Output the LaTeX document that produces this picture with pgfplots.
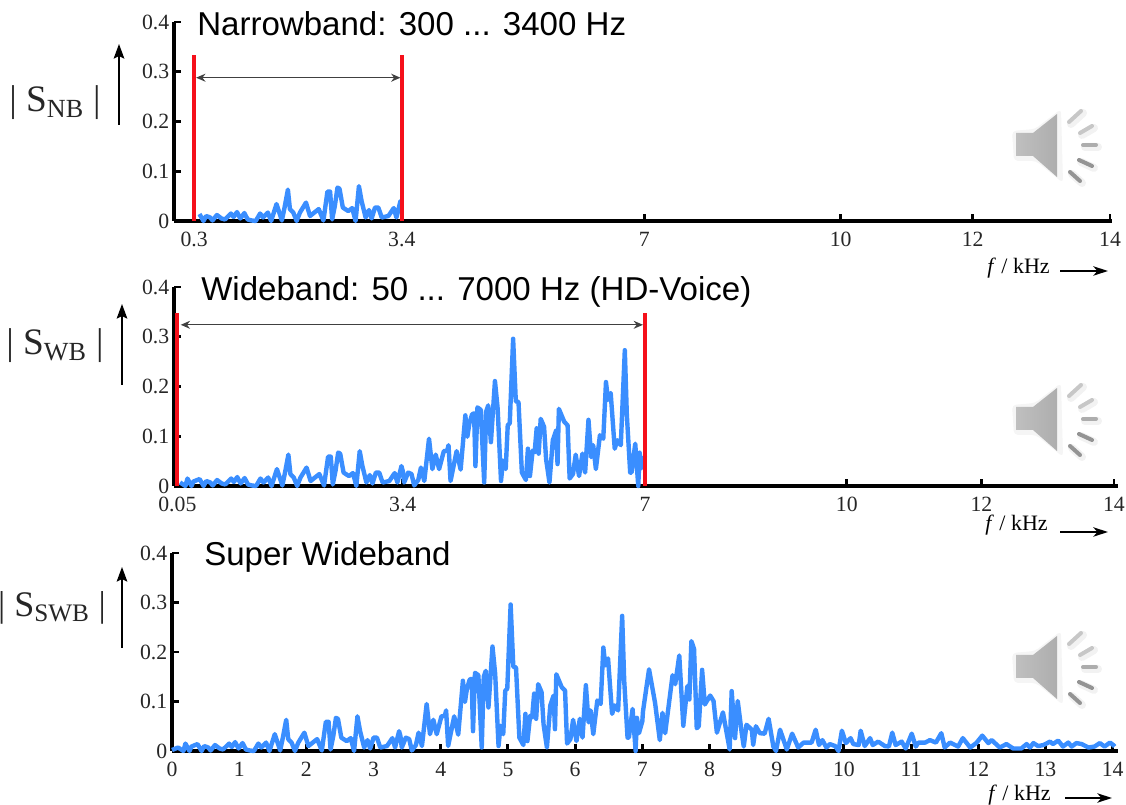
\documentclass[border=0pt]{standalone}
\usepackage{fontspec}
\setmainfont{Liberation Serif}
\newfontfamily\arial{Liberation Sans}
\usepackage{pgfplots}
\usepackage{pgfplotstable}
\pgfplotsset{compat=1.18}
\usetikzlibrary{arrows.meta}
\definecolor{specblue}{HTML}{3A8EFF}
\definecolor{specred}{HTML}{F5101A}
\pgfplotstableread{
f v
0 .002
.09 .007
.17 .0
.2 .015
.26 .0
.29 .009
.38 .014
.44 .0
.48 .01
.54 .007
.575 .001
.64 .012
.71 .005
.76 .003
.85 .015
.89 .008
.94 .018
.99 .005
1.05 .016
1.1 .003
1.16 .001
1.22 .0
1.285 .015
1.33 .007
1.4 .017
1.45 .0
1.53 .034
1.61 .001
1.65 .027
1.7 .063
1.73 .024
1.78 .017
1.83 .0
1.88 .017
1.97 .037
2.03 .01
2.16 .024
2.23 .001
2.29 .059
2.33 .059
2.36 .003
2.4 .03
2.44 .067
2.47 .065
2.52 .027
2.6 .02
2.66 .026
2.71 .0
2.76 .07
2.8 .04
2.86 .007
2.91 .022
2.95 .005
3.0 .027
3.05 .027
3.1 .007
3.2 .01
3.28 .026
3.32 .007
3.38 .04
3.4 .03
3.42 .007
3.48 .027
3.53 .024
3.57 .001
3.63 .012
3.67 .037
3.72 .01
3.79 .095
3.84 .034
3.89 .063
3.94 .034
4.01 .07
4.06 .071
4.08 .082
4.11 .01
4.2 .07
4.26 .033
4.33 .142
4.36 .099
4.39 .126
4.43 .144
4.46 .146
4.48 .04
4.51 .158
4.56 .153
4.61 .007
4.64 .15
4.67 .162
4.71 .088
4.77 .211
4.81 .156
4.86 .01
4.89 .051
4.93 .034
4.96 .122
4.99 .126
5.04 .296
5.08 .17
5.12 .169
5.17 .027
5.23 .012
5.26 .075
5.29 .02
5.33 .071
5.36 .068
5.39 .116
5.42 .065
5.45 .135
5.5 .119
5.53 .054
5.58 .007
5.63 .092
5.68 .112
5.7 .044
5.72 .155
5.8 .129
5.85 .122
5.88 .015
5.93 .024
5.97 .063
6.02 .02
6.07 .065
6.11 .027
6.16 .133
6.2 .058
6.23 .082
6.27 .034
6.33 .102
6.38 .095
6.42 .209
6.45 .173
6.49 .187
6.55 .075
6.59 .092
6.64 .082
6.7 .273
6.73 .143
6.78 .027
6.8 .027
6.855 .085
6.9 .0
6.92 .067
6.95 .036
7.0 .06
7.01 .08
7.1 .165
7.19 .097
7.26 .022
7.3 .077
7.34 .036
7.45 .153
7.49 .135
7.55 .193
7.61 .051
7.67 .131
7.7 .104
7.73 .222
7.77 .206
7.81 .046
7.84 .05
7.89 .164
7.93 .094
8.01 .112
8.06 .101
8.11 .037
8.2 .078
8.3 .003
8.33 .121
8.38 .026
8.42 .101
8.48 .036
8.51 .009
8.55 .053
8.63 .043
8.65 .012
8.69 .05
8.75 .036
8.82 .035
8.88 .065
8.95 .009
8.99 .0
9.05 .043
9.15 .003
9.23 .035
9.32 .007
9.4 .017
9.52 .017
9.58 .043
9.63 .012
9.68 .022
9.74 .007
9.79 .014
9.87 .01
9.92 .0
9.97 .041
10.03 .016
10.1 .026
10.14 .014
10.22 .012
10.25 .041
10.31 .01
10.39 .026
10.43 .012
10.51 .019
10.61 .01
10.67 .009
10.72 .037
10.77 .012
10.86 .019
10.92 .005
11.01 .035
11.07 .009
11.11 .017
11.21 .017
11.28 .022
11.37 .017
11.45 .036
11.5 .007
11.58 .017
11.7 .009
11.77 .026
11.88 .007
11.97 .016
12.06 .031
12.15 .016
12.2 .022
12.32 .007
12.42 .014
12.52 .005
12.64 .005
12.72 .014
12.77 .007
12.82 .016
12.89 .01
12.97 .012
13.07 .019
13.11 .014
13.19 .021
13.26 .009
13.34 .017
13.39 .009
13.46 .016
13.54 .014
13.64 .007
13.73 .009
13.81 .016
13.88 .009
13.96 .017
14.01 .012
14.03 .009
}\spectrum
\pgfplotsset{
  specax/.style={
    scale only axis,
    clip=false,
    axis lines=left,
    axis line style={-,line width=2.8pt,black},
    ymin=0,ymax=0.4,
    ytick={0,0.1,0.2,0.3,0.4},
    yticklabels={0,0.1,0.2,0.3,0.4},
    tick align=inside,
    major tick length=5pt,
    tick style={line width=2.2pt,black},
    ticklabel style={font=\fontsize{16.3}{17}\selectfont,text=black!85},
    yticklabel style={xshift=0pt},
    xtick pos=bottom, ytick pos=left,
    xticklabel style={yshift=-5pt},
  },
  spec/.style={color=specblue,line width=3.3pt,line join=round,no markers},
  band/.style={color=specred,line width=3pt,no markers},
}
\tikzset{
  arrowdim/.style={{Stealth[length=7pt,width=6pt]}-{Stealth[length=7pt,width=6pt]},black!75,line width=1pt},
  xq/.style={-{Stealth[length=11pt,width=7pt,inset=3pt]},line width=1.3pt},
  yq/.style={-{Stealth[length=11pt,width=8pt,inset=2pt]},line width=1.1pt},
}
\newcommand{\speaker}[1]{%
  \begin{scope}[yshift=#1*0.75pt]
    \fill[black!4,rounded corners=3pt] (1012,152) -- (1035,154) -- (1061,174) -- (1063,100) -- (1036,122) -- (1014,122) -- cycle;
    \draw[black!5,line width=6pt,line cap=round]
      (1071,159) -- (1083,170) (1082,148) -- (1094,155) (1085,136) -- (1098,136)
      (1081,121) -- (1094,115) (1072,109) -- (1082,100);
    \shade[left color=black!25,right color=black!32] (1016,150) -- (1033,150) -- (1057,169) -- (1057,106) -- (1033,127) -- (1016,127) -- cycle;
    \draw[black!22,line width=3pt,line cap=round]
      (1069,161) -- (1081,172)
      (1080,150) -- (1092,157);
    \draw[black!32,line width=3pt,line cap=round]
      (1083,138) -- (1096,138);
    \draw[black!42,line width=3pt,line cap=round]
      (1079,123) -- (1092,117)
      (1070,111) -- (1080,102);
  \end{scope}}
\begin{document}
\begin{tikzpicture}[x=0.75pt,y=0.75pt]
\useasboundingbox (0,0) rectangle (1126,805);

% ---- narrowband ----
\begin{axis}[specax,at={(130.5pt,438pt)},anchor=south west,
  width=703.5pt,height=149.25pt,xmin=0,xmax=14,
  xtick={0.3,3.4,7.02,9.95,11.92,13.97},
  xticklabels={0.3,3.4,7,10,12,14}]
\addplot[spec,restrict x to domain=0.3:3.4] table[x=f,y=v] {\spectrum};
\addplot[band] coordinates {(0.3,0)(0.3,0.334)};
\addplot[band] coordinates {(3.4,0)(3.4,0.334)};
\draw[arrowdim] (axis cs:0.33,0.288) -- (axis cs:3.38,0.288);
\end{axis}

% ---- wideband ----
\begin{axis}[specax,at={(130.5pt,239.25pt)},anchor=south west,
  width=708pt,height=149.25pt,xmin=0,xmax=14.03,
  xtick={0.05,3.4,7,10,12,13.97},
  xticklabels={0.05,3.4,7,10,12,14}]
\addplot[spec,restrict x to domain=0.05:7] table[x=f,y=v] {\spectrum};
\addplot[band] coordinates {(0.05,0)(0.05,0.348)};
\addplot[band] coordinates {(7,0)(7,0.348)};
\draw[arrowdim] (axis cs:0.1,0.324) -- (axis cs:6.97,0.324);
\end{axis}

% ---- super wideband ----
\begin{axis}[specax,at={(129pt,40.5pt)},anchor=south west,
  width=709.5pt,height=148.5pt,xmin=0,xmax=14.08,
  xtick={0,1,...,14},
  xticklabels={0,1,2,3,4,5,6,7,8,9,10,11,12,13,14}]
\addplot[spec] table[x=f,y=v] {\spectrum};
\end{axis}

% ---- titles ----
\node[anchor=west,inner sep=0pt,font=\arial\fontsize{24.8}{26}\selectfont] at (197,781) {Narrowband: 300 ... 3400 Hz};
\node[anchor=west,inner sep=0pt,font=\arial\fontsize{24.8}{26}\selectfont] at (201,513) {Wideband: 50 ... 7000 Hz (HD-Voice)};
\node[anchor=west,inner sep=0pt,font=\arial\fontsize{24.8}{26}\selectfont] at (204,248) {Super Wideband};

% ---- y quantities ----
\node[anchor=center,inner sep=0pt,font=\fontsize{28}{32}\selectfont,text=black!85] at (55,702) {| S\textsubscript{NB} |};
\node[anchor=center,inner sep=0pt,font=\fontsize{28}{32}\selectfont,text=black!85] at (55,459) {| S\textsubscript{WB} |};
\node[anchor=center,inner sep=0pt,font=\fontsize{27}{32}\selectfont,text=black!85] at (52,197) {| S\textsubscript{SWB} |};
\draw[yq] (119,680) -- (119,761);
\draw[yq] (122,420) -- (122,501);
\draw[yq] (122,157) -- (122,238);

% ---- x quantities ----
\node[anchor=west,inner sep=0pt,font=\fontsize{16.5}{17}\selectfont] at (987,537) {\textit{f} / kHz};
\draw[xq] (1060,534) -- (1108,534);
\node[anchor=west,inner sep=0pt,font=\fontsize{16.5}{17}\selectfont] at (985,280) {\textit{f} / kHz};
\draw[xq] (1060,273) -- (1108,273);
\node[anchor=west,inner sep=0pt,font=\fontsize{16.5}{17}\selectfont] at (988,10) {\textit{f} / kHz};
\draw[xq] (1065,7) -- (1112,7);

% ---- speaker icons ----
\speaker{522}
\speaker{248}
\speaker{0}
\end{tikzpicture}
\end{document}
